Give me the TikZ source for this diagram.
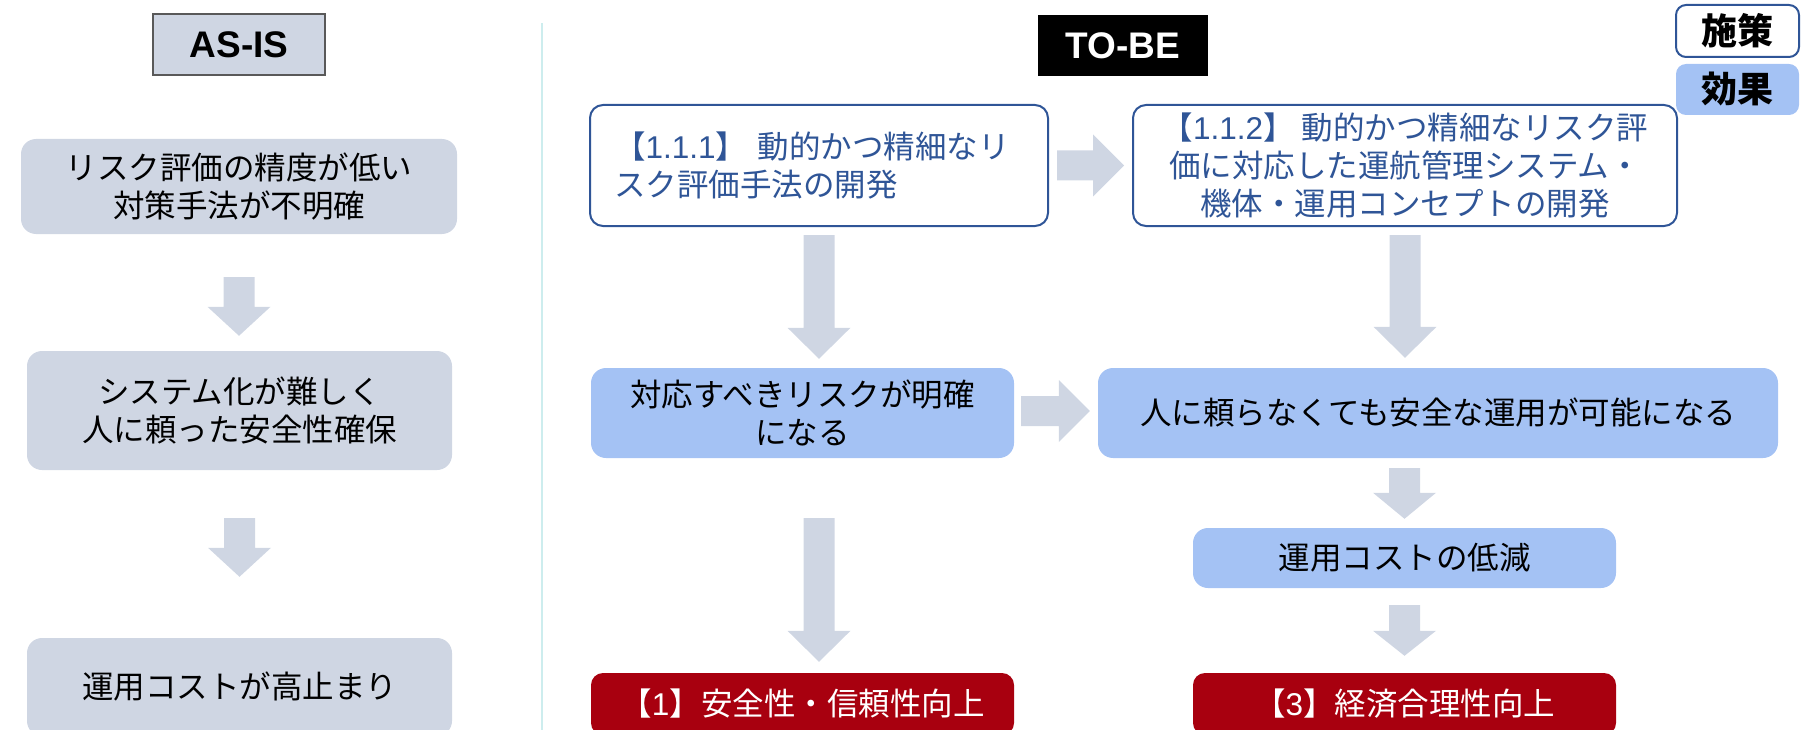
\documentclass[tikz,border=0pt]{standalone}
\usepackage{fontspec}
\setmainfont{Liberation Sans}
\newfontfamily\jp{Noto Sans CJK JP}
\usetikzlibrary{calc}
\definecolor{grayfill}{RGB}{207,214,227}
\definecolor{arrowcol}{RGB}{207,214,227}
\definecolor{bluefill}{RGB}{164,194,244}
\definecolor{redfill}{RGB}{168,0,15}
\definecolor{navy}{RGB}{47,85,151}
\definecolor{divcol}{RGB}{205,237,238}
\definecolor{labborder}{RGB}{89,89,89}
\newcommand\downblk[3]{%
  \fill[arrowcol] let \p1=#1, \p2=#2 in
    (\x1-15.5pt,\y1) -- (\x1+15.5pt,\y1) -- (\x1+15.5pt,\y2+#3) -- (\x1+31.5pt,\y2+#3)
    -- (\x1,\y2) -- (\x1-31.5pt,\y2+#3) -- (\x1-15.5pt,\y2+#3) -- cycle;}
\newcommand\rightblk[3]{%
  \fill[arrowcol] let \p1=#1, \p2=#2 in
    (\x1,\y1+15pt) -- (\x2-#3,\y1+15pt) -- (\x2-#3,\y1+31pt) -- (\x2,\y1)
    -- (\x2-#3,\y1-31pt) -- (\x2-#3,\y1-15pt) -- (\x1,\y1-15pt) -- cycle;}
\tikzset{
  base/.style={inner sep=0pt, align=center, font=\jp\fontsize{31.5}{38}\selectfont},
  asisbox/.style={base, fill=grayfill, rounded corners=15pt},
  effbox/.style={base, fill=bluefill, rounded corners=15pt},
  resbox/.style={base, fill=redfill, text=white, rounded corners=12pt},
  measbox/.style={base, draw=navy, line width=2pt, fill=white, text=navy, rounded corners=13pt},
  headlabel/.style={inner sep=0pt, font=\bfseries\fontsize{37}{40}\selectfont},
  legendtxt/.style={inner sep=0pt, font=\jp\bfseries\fontsize{36}{40}\selectfont},
}
\begin{document}
\begin{tikzpicture}[x=1pt,y=-1pt]
\useasboundingbox (0,0) rectangle (1801,730);
% divider
\coordinate (divtop) at (542,23);
\coordinate (divbot) at (542,730);
\draw[divcol, line width=2pt] (divtop) -- (divbot);
% headers
\node[headlabel, draw=labborder, line width=1.5pt, fill=grayfill, minimum width=172pt, minimum height=61pt] (asis) at (239,44.5) {AS-IS};
\node[headlabel, fill=black, text=white, minimum width=170pt, minimum height=61pt] (tobe) at (1123,45.5) {TO-BE};
% legend
\node[legendtxt, draw=navy, line width=2pt, fill=white, rounded corners=10pt, minimum width=123pt, minimum height=52pt] (lgm) at (1737.5,31) {施策};
\node[legendtxt, fill=bluefill, rounded corners=10pt, minimum width=123pt, minimum height=51pt] (lge) at (1737.5,89.5) {効果};
% AS-IS column
\node[asisbox, minimum width=436pt, minimum height=95pt] (a1) at (239,186.5) {リスク評価の精度が低い\\対策手法が不明確};
\node[asisbox, minimum width=425pt, minimum height=119pt] (a2) at (239.5,410.5) {システム化が難しく\\人に頼った安全性確保};
\node[asisbox, minimum width=425pt, minimum height=98pt] (a3) at (239.5,687) {運用コストが高止まり};
% TO-BE measures
\node[measbox, minimum width=458pt, minimum height=121pt, text width=410pt, align=left] (m1) at (819,165.5) {【{\rmfamily 1.1.1}】 動的かつ精細なリ\\スク評価手法の開発};
\node[measbox, minimum width=544pt, minimum height=121pt] (m2) at (1405,165.5) {【{\rmfamily 1.1.2}】 動的かつ精細なリスク評\\価に対応した運航管理システム・\\機体・運用コンセプトの開発};
% effects
\node[effbox, minimum width=423pt, minimum height=90pt] (e1) at (802.5,413) {対応すべきリスクが明確\\になる};
\node[effbox, minimum width=680pt, minimum height=90pt] (e2) at (1438,413) {人に頼らなくても安全な運用が可能になる};
\node[effbox, minimum width=423pt, minimum height=60pt] (e3) at (1404.5,558) {運用コストの低減};
% results
\node[resbox, minimum width=423pt, minimum height=62pt] (r1) at (802.5,704) {【{\rmfamily 1}】安全性・信頼性向上};
\node[resbox, minimum width=423pt, minimum height=62pt] (r3) at (1404.5,704) {【{\rmfamily 3}】経済合理性向上};
% arrows AS-IS
\downblk{([yshift=-43pt]a1.south)}{([yshift=15pt]a2.north)}{29pt}
\downblk{([yshift=-48pt]a2.south)}{([yshift=61pt]a3.north)}{29pt}
% arrows TO-BE
\downblk{([yshift=-8pt]m1.south)}{([yshift=9pt]e1.north)}{31pt}
\downblk{([yshift=-8pt]m2.south)}{([yshift=10pt]e2.north)}{31pt}
\downblk{([yshift=-60pt]e1.south -| m1.south)}{([yshift=11pt]r1.north)}{31pt}
\downblk{([yshift=-10pt]e2.south -| e3.north)}{([yshift=9pt]e3.north)}{26pt}
\downblk{([yshift=-17pt]e3.south)}{([yshift=17pt]r3.north)}{25pt}
\rightblk{([xshift=8pt]m1.east)}{([xshift=-8pt]m2.west)}{31pt}
\rightblk{([xshift=7pt,yshift=2pt]e1.east)}{([xshift=-8pt]e2.west)}{31pt}
\end{tikzpicture}
\end{document}
